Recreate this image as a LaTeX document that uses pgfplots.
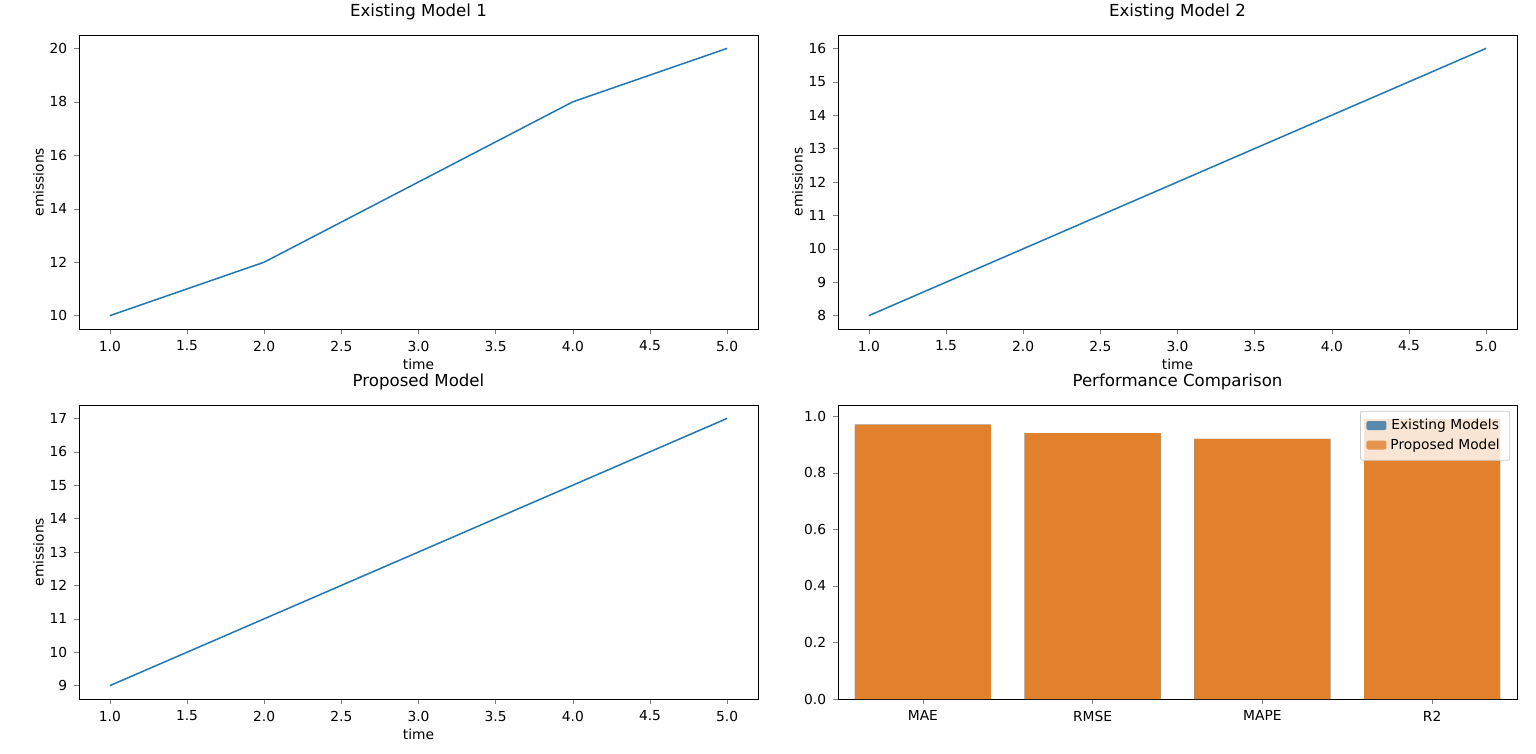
\documentclass[border=0pt]{standalone}
\usepackage{pgfplots}
\pgfplotsset{compat=1.18}
\usepackage{fontspec}
\setmainfont{DejaVu Sans}
\definecolor{mblue}{HTML}{1F77B4}
\definecolor{sblue}{HTML}{3274A1}
\definecolor{sorange}{HTML}{E1812C}
\pgfplotsset{
  base/.style={scale only axis, width=339.5pt, height=147pt, anchor=north west,
    tick align=outside, tick pos=left, major tick length=2.4pt,
    /pgf/number format/assume math mode=true,
    tick label style={font=\fontsize{6.9}{8}\selectfont},
    label style={font=\fontsize{6.9}{8}\selectfont},
    title style={font=\fontsize{8.3}{10}\selectfont, yshift=-2pt},
    every axis plot/.append style={line width=0.75pt},
    axis line style={line width=0.4pt}},
  lines/.style={base, xmin=0.8, xmax=5.2, xtick={1,1.5,...,5},
    xticklabel style={/pgf/number format/.cd, fixed, fixed zerofill, precision=1},
    xlabel={time}, ylabel={emissions}, ylabel style={yshift=-4pt}, xlabel style={yshift=3pt}}
}
\begin{document}
\begin{tikzpicture}
\path[use as bounding box] (0,0) rectangle (768pt,-377pt);
\begin{axis}[lines, at={(39.5pt,-17.5pt)}, title={Existing Model 1}, ymin=9.5, ymax=20.5, ytick={10,12,...,20}]
\addplot[mblue] coordinates {(1,10)(2,12)(3,15)(4,18)(5,20)};
\end{axis}
\begin{axis}[lines, at={(419pt,-17.5pt)}, title={Existing Model 2}, ymin=7.6, ymax=16.4, ytick={8,...,16}]
\addplot[mblue] coordinates {(1,8)(2,10)(3,12)(4,14)(5,16)};
\end{axis}
\begin{axis}[lines, at={(39.5pt,-202.5pt)}, title={Proposed Model}, ymin=8.6, ymax=17.4, ytick={9,...,17}]
\addplot[mblue] coordinates {(1,9)(2,11)(3,13)(4,15)(5,17)};
\end{axis}
\begin{axis}[base, at={(419pt,-202.5pt)}, title={Performance Comparison},
  xmin=-0.5, xmax=3.5, ymin=0, ymax=1.0395, xtick={0,1,2,3}, xticklabels={MAE,RMSE,MAPE,R2},
  ytick={0,0.2,...,1.0}, yticklabel style={/pgf/number format/.cd, fixed, fixed zerofill, precision=1},
  legend style={at={(0.99,0.98)}, anchor=north east, fill=white, fill opacity=0.8, text opacity=1, draw=black!20, rounded corners=1pt, font=\fontsize{6.9}{8}\selectfont, row sep=-1pt},
  legend image code/.code={\fill[#1] (0pt,-2pt) rectangle (10pt,2.5pt);}]
\addplot[ybar, bar width=0.8, fill=sblue, draw=none, bar shift=0pt] coordinates {(0,0.97)(1,0.94)(2,0.92)(3,0.99)};
\addlegendentry{Existing Models}
\addplot[ybar, bar width=0.8, fill=sorange, draw=none, bar shift=0pt] coordinates {(0,0.97)(1,0.94)(2,0.92)(3,0.99)};
\addlegendentry{Proposed Model}
\end{axis}
\end{tikzpicture}
\end{document}
